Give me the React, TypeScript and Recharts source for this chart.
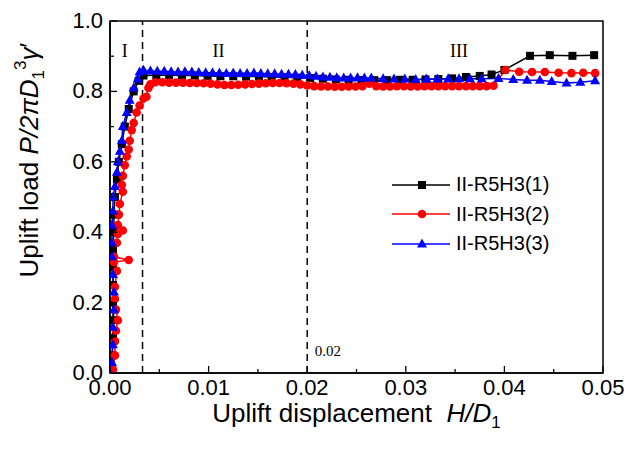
import React from 'react';
import {
  ComposedChart,
  Line,
  XAxis,
  YAxis,
  ReferenceLine,
  ReferenceArea,
  ReferenceDot,
  Label,
} from 'recharts';

// axis ticks (minor ticks have no label)
const xTicks = [0, 0.005, 0.01, 0.015, 0.02, 0.025, 0.03, 0.035, 0.04, 0.045, 0.05];
const yTicks = [0, 0.1, 0.2, 0.3, 0.4, 0.5, 0.6, 0.7, 0.8, 0.9, 1.0];

const seriesNames = ['II-R5H3(1)', 'II-R5H3(2)', 'II-R5H3(3)'];

// [H/D1, P/2πD1^3γ']
const test1: [number, number][] = [
  [0, 0], [0.0002, 0.05], [0.0003, 0.1], [0.0003, 0.15], [0.0003, 0.2], [0.0003, 0.25],
  [0.0003, 0.3], [0.0003, 0.35], [0.0004, 0.4], [0.0004, 0.45], [0.0005, 0.5], [0.0007, 0.55],
  [0.0009, 0.6], [0.0012, 0.65], [0.0015, 0.7], [0.0019, 0.75], [0.0024, 0.8], [0.0029, 0.83],
  [0.0034, 0.845], [0.0047, 0.846], [0.006, 0.846], [0.0073, 0.845], [0.0086, 0.845],
  [0.0099, 0.844], [0.0112, 0.843], [0.0125, 0.843], [0.0138, 0.842], [0.0151, 0.842],
  [0.0164, 0.841], [0.0177, 0.84], [0.019, 0.839], [0.0203, 0.838], [0.0216, 0.836],
  [0.0229, 0.834], [0.0242, 0.833], [0.0255, 0.832], [0.0268, 0.832], [0.0281, 0.832],
  [0.0294, 0.833], [0.0307, 0.833], [0.032, 0.834], [0.0333, 0.835], [0.0347, 0.837],
  [0.0361, 0.841], [0.0375, 0.844], [0.0387, 0.848], [0.04, 0.861], [0.0426, 0.901],
  [0.0446, 0.903], [0.0469, 0.901], [0.0491, 0.903],
];

const test2: [number, number][] = [
  [0, 0], [0.0003, 0.01], [0.0005, 0.05], [0.0005, 0.09], [0.0006, 0.12], [0.0008, 0.15],
  [0.0006, 0.18], [0.0005, 0.21], [0.0005, 0.245], [0.0007, 0.29], [0.0004, 0.315],
  [0.0019, 0.321], [0.0004, 0.33], [0.0007, 0.37], [0.0008, 0.395], [0.0013, 0.405],
  [0.0008, 0.42], [0.0009, 0.45], [0.001, 0.48], [0.0013, 0.515], [0.0012, 0.535],
  [0.0013, 0.56], [0.0015, 0.59], [0.0017, 0.615], [0.0019, 0.635], [0.002, 0.66],
  [0.0022, 0.69], [0.0024, 0.71], [0.0027, 0.74], [0.003, 0.76], [0.0034, 0.78],
  [0.0037, 0.785], [0.0039, 0.81], [0.0041, 0.82], [0.0046, 0.826], [0.0053, 0.826],
  [0.006, 0.825], [0.0067, 0.825], [0.0074, 0.825], [0.0081, 0.824], [0.0088, 0.824],
  [0.0095, 0.823], [0.0102, 0.822], [0.0109, 0.82], [0.0116, 0.818], [0.0123, 0.818],
  [0.013, 0.819], [0.0137, 0.82], [0.0144, 0.821], [0.0151, 0.822], [0.0158, 0.823],
  [0.0165, 0.824], [0.0172, 0.824], [0.0179, 0.823], [0.0186, 0.822], [0.0193, 0.82],
  [0.02, 0.817], [0.0207, 0.815], [0.0214, 0.814], [0.0221, 0.814], [0.0228, 0.813],
  [0.0235, 0.813], [0.0242, 0.814], [0.0249, 0.814], [0.0256, 0.815], [0.0263, 0.822],
  [0.027, 0.815], [0.0277, 0.814], [0.0284, 0.814], [0.0291, 0.815], [0.0298, 0.815],
  [0.0305, 0.814], [0.0312, 0.814], [0.0319, 0.815], [0.0326, 0.815], [0.0333, 0.815],
  [0.034, 0.815], [0.0347, 0.815], [0.0354, 0.815], [0.0361, 0.815], [0.0368, 0.815],
  [0.0375, 0.815], [0.0382, 0.815], [0.0389, 0.816], [0.0401, 0.861], [0.0415, 0.856],
  [0.0428, 0.855], [0.0441, 0.855], [0.0455, 0.853], [0.0468, 0.852], [0.048, 0.853],
  [0.0492, 0.852],
];

const test3: [number, number][] = [
  [0, 0], [0.0002, 0.03], [0.0003, 0.08], [0.0003, 0.13], [0.0004, 0.18], [0.0004, 0.23],
  [0.0003, 0.28], [0.0002, 0.33], [0.0002, 0.37], [0.0002, 0.42], [0.0003, 0.46],
  [0.0003, 0.5], [0.0005, 0.53], [0.0007, 0.57], [0.0008, 0.6], [0.001, 0.63], [0.0012, 0.66],
  [0.0013, 0.7], [0.0017, 0.74], [0.002, 0.775], [0.0024, 0.81], [0.0028, 0.835],
  [0.003, 0.855], [0.0034, 0.86], [0.0041, 0.858], [0.0048, 0.857], [0.0055, 0.857],
  [0.0062, 0.856], [0.0069, 0.855], [0.0076, 0.856], [0.0083, 0.855], [0.009, 0.854],
  [0.0097, 0.853], [0.0104, 0.853], [0.0111, 0.852], [0.0118, 0.851], [0.0125, 0.852],
  [0.0132, 0.851], [0.0139, 0.851], [0.0146, 0.852], [0.0153, 0.851], [0.016, 0.85],
  [0.0167, 0.85], [0.0174, 0.849], [0.0181, 0.849], [0.0188, 0.848], [0.0195, 0.846],
  [0.0202, 0.845], [0.0209, 0.843], [0.0216, 0.841], [0.0223, 0.84], [0.023, 0.839],
  [0.0237, 0.838], [0.0244, 0.838], [0.0251, 0.839], [0.0258, 0.838], [0.0265, 0.838],
  [0.0277, 0.836], [0.0288, 0.835], [0.0299, 0.835], [0.031, 0.834], [0.0321, 0.835],
  [0.0332, 0.835], [0.0343, 0.836], [0.0354, 0.836], [0.0365, 0.836], [0.0377, 0.836],
  [0.0394, 0.837], [0.0409, 0.834], [0.0423, 0.832], [0.0436, 0.832], [0.0448, 0.828],
  [0.0463, 0.824], [0.0477, 0.826], [0.0492, 0.83],
];

const toRows = (pts: [number, number][]) => pts.map(([x, y]) => ({ x, y }));

const SANS = 'Arial, "Liberation Sans", sans-serif';
const SERIF = '"Times New Roman", "Liberation Serif", serif';

const squareDot = (p: any) => {
  if (p.cx == null || p.cy == null) return <g key={`s-${p.index}`} />;
  return <rect key={`s-${p.index}`} x={p.cx - 4} y={p.cy - 4} width={8} height={8} fill="#000" />;
};

const circleDot = (p: any) => {
  if (p.cx == null || p.cy == null) return <g key={`c-${p.index}`} />;
  return <circle key={`c-${p.index}`} cx={p.cx} cy={p.cy} r={4.3} fill="#ff0000" />;
};

const triangleDot = (p: any) => {
  if (p.cx == null || p.cy == null) return <g key={`t-${p.index}`} />;
  const { cx, cy } = p;
  return (
    <polygon
      key={`t-${p.index}`}
      points={`${cx},${cy - 5.5} ${cx - 5},${cy + 3.5} ${cx + 5},${cy + 3.5}`}
      fill="#0000ff"
    />
  );
};

const XTick = (props: any) => {
  const { x, y, payload } = props;
  const major = Math.round(payload.value * 1000) % 10 === 0;
  return (
    <g>
      <line x1={x} x2={x} y1={y} y2={y - (major ? 7 : 4)} stroke="#000" strokeWidth={1.3} />
      {major && (
        <text x={x} y={y + 22} textAnchor="middle" fontSize={22} fontFamily={SANS} fill="#000">
          {payload.value.toFixed(2)}
        </text>
      )}
    </g>
  );
};

const YTick = (props: any) => {
  const { x, y, payload } = props;
  const major = Math.round(payload.value * 10) % 2 === 0;
  return (
    <g>
      <line x1={x} x2={x + (major ? 7 : 4)} y1={y} y2={y} stroke="#000" strokeWidth={1.3} />
      {major && (
        <text x={x - 7} y={y + 7} textAnchor="end" fontSize={22} fontFamily={SANS} fill="#000">
          {payload.value.toFixed(1)}
        </text>
      )}
    </g>
  );
};

const XTitle = (props: any) => {
  const { viewBox } = props;
  const cx = viewBox.x + viewBox.width / 2;
  return (
    <text x={cx} y={viewBox.y + 49} textAnchor="middle" fontSize={26} fontFamily={SANS} fill="#000">
      Uplift displacement{'\u00a0\u00a0'}
      <tspan fontStyle="italic">H/D</tspan>
      <tspan fontSize={17} dy={6}>1</tspan>
    </text>
  );
};

const YTitle = () => {
  const x = 38;
  const y = 160;
  return (
    <text
      x={x}
      y={y}
      transform={`rotate(-90, ${x}, ${y})`}
      textAnchor="middle"
      fontSize={26}
      fontFamily={SANS}
      fill="#000"
    >
      Uplift load <tspan fontStyle="italic">P/2πD</tspan>
      <tspan fontSize={17} dy={6}>1</tspan>
      <tspan fontSize={17} dy={-18}>3</tspan>
      <tspan fontStyle="italic" dy={12}>γ</tspan>
      <tspan>′</tspan>
    </text>
  );
};

const Legend = () => {
  const rows = [
    { name: seriesNames[0], color: '#000', mark: <rect x={26} y={6} width={8} height={8} fill="#000" /> },
    { name: seriesNames[1], color: '#ff0000', mark: <circle cx={30} cy={10} r={4.3} fill="#ff0000" /> },
    { name: seriesNames[2], color: '#0000ff', mark: <polygon points="30,4.5 25,13.5 35,13.5" fill="#0000ff" /> },
  ];
  return (
    <div style={{ position: 'absolute', left: 392, top: 170 }}>
      {rows.map((r) => (
        <div key={r.name} style={{ display: 'flex', alignItems: 'center', height: 29.5 }}>
          <svg width={60} height={20}>
            <line x1={0} x2={58} y1={10} y2={10} stroke={r.color} strokeWidth={1.5} />
            {r.mark}
          </svg>
          <span style={{ fontFamily: SANS, fontSize: 20, color: '#000', marginLeft: 4 }}>{r.name}</span>
        </div>
      ))}
    </div>
  );
};

export default function App() {
  return (
    <div style={{ position: 'absolute', left: 0, top: 0, width: 630, height: 454, background: '#fff' }}>
      <ComposedChart width={630} height={454} margin={{ top: 21, right: 27, bottom: 0, left: 0 }}>
        <XAxis
          type="number"
          dataKey="x"
          domain={[0, 0.05]}
          ticks={xTicks}
          interval={0}
          height={81}
          tick={<XTick />}
          tickLine={false}
          tickSize={0}
          tickMargin={0}
          axisLine={{ stroke: '#000', strokeWidth: 1.5 }}
          allowDataOverflow
        >
          <Label content={<XTitle />} />
        </XAxis>
        <YAxis
          type="number"
          domain={[0, 1]}
          ticks={yTicks}
          interval={0}
          width={110}
          tick={<YTick />}
          tickLine={false}
          tickSize={0}
          tickMargin={0}
          axisLine={{ stroke: '#000', strokeWidth: 1.5 }}
          allowDataOverflow
        >
          <Label content={<YTitle />} />
        </YAxis>
        <ReferenceArea x1={0} x2={0.05} y1={0} y2={1} fill="none" stroke="#000" strokeWidth={1.5} />
        <ReferenceLine x={0.0033} stroke="#000" strokeWidth={1.5} strokeDasharray="7 5" />
        <ReferenceLine x={0.02} stroke="#000" strokeWidth={1.5} strokeDasharray="7 5" />
        <ReferenceDot
          x={0.0015}
          y={0.915}
          r={0}
          fill="none"
          stroke="none"
          label={{ value: 'I', position: 'center', fontSize: 18, fontFamily: SERIF, fill: '#000' }}
        />
        <ReferenceDot
          x={0.011}
          y={0.915}
          r={0}
          fill="none"
          stroke="none"
          label={{ value: 'II', position: 'center', fontSize: 18, fontFamily: SERIF, fill: '#000' }}
        />
        <ReferenceDot
          x={0.0354}
          y={0.915}
          r={0}
          fill="none"
          stroke="none"
          label={{ value: 'III', position: 'center', fontSize: 18, fontFamily: SERIF, fill: '#000' }}
        />
        <ReferenceDot
          x={0.0221}
          y={0.0625}
          r={0}
          fill="none"
          stroke="none"
          label={{ value: '0.02', position: 'center', fontSize: 15, fontFamily: SERIF, fill: '#000' }}
        />
        <Line
          data={toRows(test1)}
          dataKey="y"
          name={seriesNames[0]}
          stroke="#000"
          strokeWidth={1.5}
          dot={squareDot}
          activeDot={false}
          isAnimationActive={false}
        />
        <Line
          data={toRows(test2)}
          dataKey="y"
          name={seriesNames[1]}
          stroke="#ff0000"
          strokeWidth={1.5}
          dot={circleDot}
          activeDot={false}
          isAnimationActive={false}
        />
        <Line
          data={toRows(test3)}
          dataKey="y"
          name={seriesNames[2]}
          stroke="#0000ff"
          strokeWidth={1.5}
          dot={triangleDot}
          activeDot={false}
          isAnimationActive={false}
        />
      </ComposedChart>
      <Legend />
    </div>
  );
}
